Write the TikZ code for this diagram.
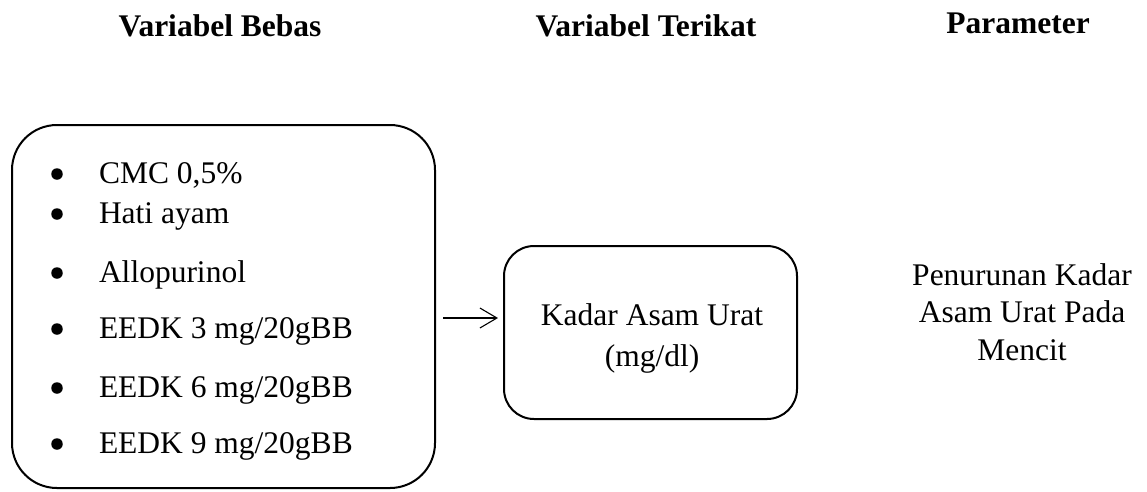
\documentclass[tikz,border=0pt]{standalone}
\usepackage{fontspec}
\setmainfont{Liberation Serif}
\usetikzlibrary{arrows.meta}
\begin{document}
\begin{tikzpicture}[x=1pt,y=-1pt,
  every node/.style={inner sep=0pt,outer sep=0pt,font=\fontsize{31.5}{42}\selectfont},
  head/.style={anchor=base,font=\fontsize{31.5}{42}\selectfont\bfseries},
  item/.style={anchor=base west},
  dot/.style={circle,fill,minimum size=11.5pt},
  frame/.style={draw,line width=2pt,rounded corners=#1},
  link/.style={line width=1.1pt,-{Straight Barb[length=17pt,width=20pt,line width=1.1pt]}}]
\useasboundingbox (0,0) rectangle (1147,491);

% column headings
\node[head] (h1) at (220,36.5) {Variabel Bebas};
\node[head] (h2) at (646,36.5) {Variabel Terikat};
\node[head] (h3) at (1018,33.5) {Parameter};

% independent variables
\node[frame=45,minimum width=423,minimum height=363] (bebas) at (223.5,306.5) {};
\foreach \y/\t [count=\i] in {183/{CMC 0,5\%},223/{Hati ayam},282/{Allopurinol},
  338/{EEDK 3 mg/20gBB},397/{EEDK 6 mg/20gBB},453/{EEDK 9 mg/20gBB}}{
  \node[dot] (b\i) at (57,\y-9) {};
  \node[item] (t\i) at (99,\y) {\t};
}

% dependent variable
\node[frame=30,minimum width=293,minimum height=173] (terikat) at (650.5,332.5) {};
\node[anchor=base] (k1) at (652,325) {Kadar Asam Urat};
\node[anchor=base] (k2) at (652,366) {(mg/dl)};

% parameter
\node[anchor=base] (p1) at (1022,285) {Penurunan Kadar};
\node[anchor=base] (p2) at (1022,322) {Asam Urat Pada};
\node[anchor=base] (p3) at (1022,360) {Mencit};

% connector
\coordinate (arrS) at (443,318);
\draw[link,shorten >=6pt] (arrS) -- (arrS -| terikat.west);
\end{tikzpicture}
\end{document}
